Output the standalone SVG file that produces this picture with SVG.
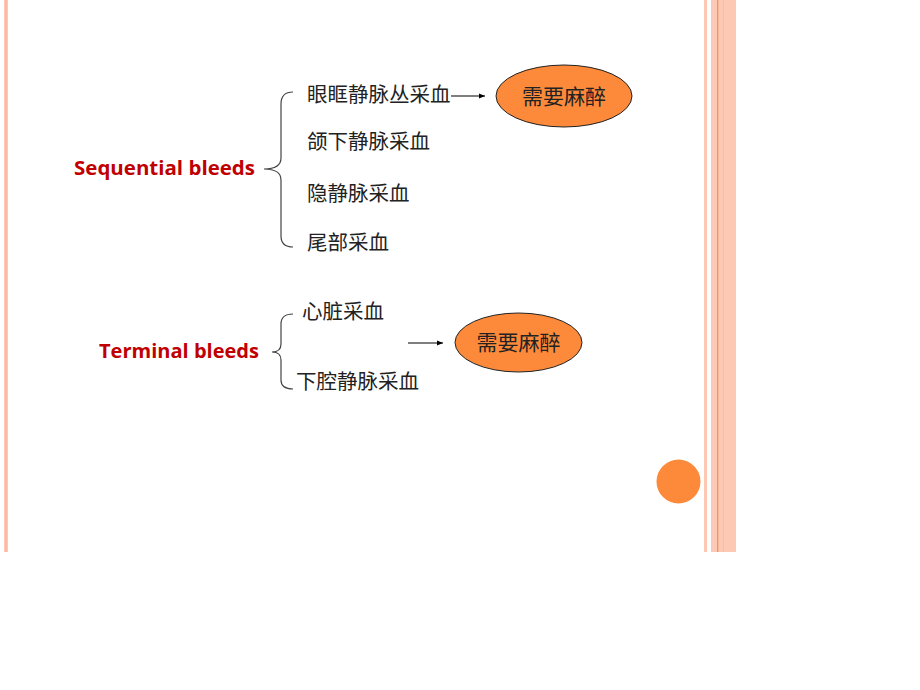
<svg xmlns="http://www.w3.org/2000/svg" width="920" height="690" viewBox="0 0 920 690">
<defs>
<style>
.cn{font-family:"Noto Sans CJK SC","Noto Sans CJK JP",sans-serif;font-size:20.5px;fill:#222}
.en{font-family:"Open Sans","Liberation Sans",sans-serif;font-weight:bold;font-size:19.5px;fill:#C00000}
.brace{fill:none;stroke:#444;stroke-width:1.2}
.conn{stroke:#000;stroke-width:1.2;fill:none}
.ell{fill:#FD8A3B;stroke:#222;stroke-width:1}
.ecn{font-family:"Noto Sans CJK SC","Noto Sans CJK JP",sans-serif;font-size:21px;fill:#222;text-anchor:middle}
</style>
<marker id="ah" viewBox="0 0 10 10" refX="10" refY="5" markerWidth="6" markerHeight="6" orient="auto" markerUnits="userSpaceOnUse">
<path d="M0,1 L10,5 L0,9 z" fill="#000"/>
</marker>
</defs>
<rect width="920" height="690" fill="#fff"/>
<g id="decor">
<rect x="4" y="0" width="4" height="552" fill="#FDC8B4"/>
<rect x="5" y="0" width="2" height="552" fill="#FBBBA4"/>
<rect x="704" y="0" width="3" height="552" fill="#FDC8B4"/>
<rect x="711" y="0" width="25" height="552" fill="#FEC9B4"/>
<rect x="717" y="0" width="1.3" height="552" fill="#F8905E"/>
<rect x="723" y="0" width="1" height="552" fill="#FCBBA3"/>
<circle cx="678.5" cy="481.5" r="22" fill="#FD8A3B"/>
</g>
<g id="sequential">
<text class="en" x="74" y="175" textLength="181" lengthAdjust="spacingAndGlyphs">Sequential bleeds</text>
<path class="brace" d="M293,92 Q281,92 281,104 L281,158 Q281,169 264,169 Q281,169 281,180 L281,236 Q281,247 293,247"/>
</g>
<g id="item1"><text class="cn" x="307" y="102">眼眶静脉丛采血</text></g>
<g id="item2"><text class="cn" x="307" y="149">颌下静脉采血</text></g>
<g id="item3"><text class="cn" x="307" y="201">隐静脉采血</text></g>
<g id="item4"><text class="cn" x="307" y="250">尾部采血</text></g>
<g id="anesthesia1">
<ellipse class="ell" cx="564" cy="96" rx="68" ry="31"/>
<text class="ecn" x="564" y="104">需要麻醉</text>
</g>
<g id="terminal">
<text class="en" x="99" y="358" textLength="160" lengthAdjust="spacingAndGlyphs">Terminal bleeds</text>
<path class="brace" d="M293,314 Q281,314 281,324 L281,344 Q281,352 272,352 Q281,352 281,360 L281,380 Q281,389 293,389"/>
</g>
<g id="item5"><text class="cn" x="302" y="319">心脏采血</text></g>
<g id="item6"><text class="cn" x="296" y="389">下腔静脉采血</text></g>
<g id="anesthesia2">
<ellipse class="ell" cx="518.5" cy="342.5" rx="63.5" ry="29.5"/>
<text class="ecn" x="518.5" y="350">需要麻醉</text>
</g>
<g id="connectors">
<line class="conn" x1="451" y1="96" x2="485" y2="96" marker-end="url(#ah)"/>
<line class="conn" x1="408" y1="343" x2="443" y2="343" marker-end="url(#ah)"/>
</g>
</svg>
